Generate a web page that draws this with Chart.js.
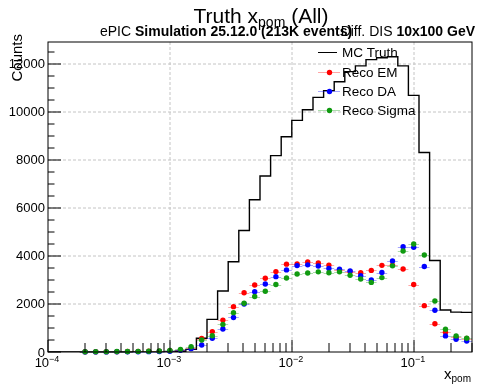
<!DOCTYPE html>
<html>
<head>
<meta charset="utf-8">
<script src="https://cdn.jsdelivr.net/npm/chart.js@4/dist/chart.umd.min.js"></script>
<style>
  html, body { margin: 0; padding: 0; background: #fff; }
  canvas { display: block; }
</style>
</head>
<body>
<canvas id="chart" width="479" height="384"></canvas>
<script>
// histogram binning: 40 log bins from 1e-4 to 0.3
const nBins = 40;
const xLow = 1e-4;
const xHigh = 0.3;

const mcTruth = [0, 0, 0, 0, 0, 0, 0, 0, 0, 2, 5, 10, 30, 110, 570, 1360, 2540, 3760, 5060, 6340,
                 7330, 8180, 8970, 9650, 10090, 10610, 10890, 11260, 11680, 11920, 12180, 12260, 12300, 11920, 10690, 8310, 3810, 1750, 1660, 1650];
const recoEM = [null, null, null, 10, 10, 15, 15, 20, 25, 30, 35, 50, 90, 160, 560, 850, 1330, 1890, 2470, 2790,
                3070, 3350, 3660, 3670, 3750, 3710, 3620, 3420, 3350, 3300, 3400, 3610, 3620, 3460, 2810, 1930, 1180, 820, 610, 560];
const recoDA = [null, null, null, 5, 5, 5, 10, 10, 10, 15, 20, 30, 70, 140, 290, 570, 960, 1440, 2000, 2510,
                2830, 3140, 3420, 3600, 3630, 3580, 3480, 3450, 3380, 3180, 3000, 3310, 3790, 4390, 4360, 3560, 1740, 670, 530, 460];
const recoSigma = [null, null, null, 10, 15, 15, 20, 20, 25, 30, 40, 65, 110, 220, 500, 680, 1150, 1640, 2030, 2310,
                   2530, 2810, 3080, 3250, 3290, 3340, 3300, 3340, 3200, 3040, 2900, 3100, 3590, 4210, 4500, 4040, 2125, 945, 670, 570];

const yTicks = [0, 2000, 4000, 6000, 8000, 10000, 12000];
const yMinorStep = 500;
const xDecades = [-4, -3, -2, -1];

const titleMain = 'Truth x';
const titleSub = 'pom';
const titleEnd = ' (All)';
const xTitle = 'x';
const xTitleSub = 'pom';
const yTitle = 'Counts';

const FONT = '"Liberation Sans", Arial, sans-serif';

const lgLow = Math.log10(xLow), lgHigh = Math.log10(xHigh);
const binEdges = [];
for (let i = 0; i <= nBins; i++) binEdges.push(Math.pow(10, lgLow + i * (lgHigh - lgLow) / nBins));

// ROOT puts the maximum 5% above the tallest bin
const yMax = 1.05 * Math.max(...mcTruth);

const truthPts = mcTruth.map((v, i) => ({ x: binEdges[i], y: v }));
truthPts.push({ x: binEdges[nBins], y: mcTruth[nBins - 1] });

function recoPoints(values) {
    const pts = [];
    values.forEach((v, i) => {
        if (v === null) return;
        pts.push({ x: Math.sqrt(binEdges[i] * binEdges[i + 1]), y: v, lo: binEdges[i], hi: binEdges[i + 1], err: Math.sqrt(v) });
    });
    return pts;
}

function drawText(ctx, parts, x, y, align) {
    // parts: [text, size, bold, dy]
    let total = 0;
    parts.forEach(p => { ctx.font = (p[2] ? 'bold ' : '') + p[1] + 'px ' + FONT; total += ctx.measureText(p[0]).width; });
    let cx = align === 'center' ? x - total / 2 : align === 'right' ? x - total : x;
    ctx.textAlign = 'left';
    parts.forEach(p => {
        ctx.font = (p[2] ? 'bold ' : '') + p[1] + 'px ' + FONT;
        ctx.fillText(p[0], cx, y + (p[3] || 0));
        cx += ctx.measureText(p[0]).width;
    });
}

const rootStyle = {
    id: 'rootStyle',
    beforeDatasetsDraw(chart) {
        const { ctx, chartArea: a, scales: { x, y } } = chart;
        ctx.save();
        ctx.strokeStyle = '#c4c4c4';
        ctx.lineWidth = 1;
        ctx.setLineDash([3, 2]);
        yTicks.forEach(v => {
            if (v === 0) return;
            const py = Math.round(y.getPixelForValue(v));
            ctx.beginPath(); ctx.moveTo(a.left, py); ctx.lineTo(a.right, py); ctx.stroke();
        });
        xDecades.forEach(d => {
            if (d === -4) return;
            const px = Math.round(x.getPixelForValue(Math.pow(10, d)));
            ctx.beginPath(); ctx.moveTo(px, a.top); ctx.lineTo(px, a.bottom); ctx.stroke();
        });
        ctx.restore();
    },
    beforeDatasetDraw(chart, args) {
        const ds = chart.data.datasets[args.index];
        if (!ds.barColor) return;
        const { ctx, scales: { x, y } } = chart;
        ctx.save();
        ctx.strokeStyle = ds.barColor;
        ctx.lineWidth = 1;
        ds.data.forEach(p => {
            const py = Math.round(y.getPixelForValue(p.y)) + 0.5;
            const px = Math.round(x.getPixelForValue(p.x)) + 0.5;
            ctx.beginPath();
            ctx.moveTo(x.getPixelForValue(p.lo), py);
            ctx.lineTo(x.getPixelForValue(p.hi), py);
            ctx.moveTo(px, y.getPixelForValue(p.y - p.err));
            ctx.lineTo(px, y.getPixelForValue(p.y + p.err));
            ctx.stroke();
        });
        ctx.restore();
    },
    afterDatasetsDraw(chart) {
        const { ctx, chartArea: a, scales: { x, y } } = chart;
        ctx.save();
        ctx.strokeStyle = '#000';
        ctx.lineWidth = 1;
        // frame
        ctx.strokeRect(a.left, a.top, a.right - a.left, a.bottom - a.top);

        // y ticks
        ctx.beginPath();
        for (let v = 0; v <= yMax; v += yMinorStep) {
            const py = Math.round(y.getPixelForValue(v));
            const len = yTicks.includes(v) ? 13 : 6.5;
            ctx.moveTo(a.left, py); ctx.lineTo(a.left + len, py);
        }
        // x ticks
        xDecades.forEach(d => {
            for (let m = 1; m <= 9; m++) {
                const v = m * Math.pow(10, d);
                if (v > xHigh * 1.0001) break;
                const px = Math.round(x.getPixelForValue(v));
                const len = m === 1 ? 12 : 9;
                ctx.moveTo(px, a.bottom); ctx.lineTo(px, a.bottom - len);
            }
        });
        ctx.stroke();

        ctx.fillStyle = '#000';
        ctx.textBaseline = 'alphabetic';
        // y labels
        ctx.font = '13px ' + FONT;
        ctx.textAlign = 'right';
        yTicks.forEach(v => {
            ctx.fillText(String(v), a.left - 3, y.getPixelForValue(v) + 4.5);
        });
        // x labels
        xDecades.forEach(d => {
            const px = x.getPixelForValue(Math.pow(10, d));
            drawText(ctx, [['10', 13], ['\u2212' + (-d), 9, false, -5]], px - 1, a.bottom + 15, 'center');
        });

        // axis titles
        drawText(ctx, [[xTitle, 15], [xTitleSub, 10, false, 3]], a.right - 1, a.bottom + 27, 'right');
        ctx.save();
        ctx.translate(22, 34);
        ctx.rotate(-Math.PI / 2);
        drawText(ctx, [[yTitle, 15]], 0, 0, 'right');
        ctx.restore();

        // titles
        drawText(ctx, [[titleMain, 21], [titleSub, 14, false, 4.5], [titleEnd, 21]], 261, 22.5, 'center');
        drawText(ctx, [['ePIC ', 14], ['Simulation 25.12.0 (213K events)', 14, true]], 100, 35.5, 'left');
        drawText(ctx, [['Diff. DIS ', 14], ['10x100 GeV', 14, true]], 475, 35.5, 'right');

        // legend
        const rowY = [51.5, 71.5, 90.5, 110];
        chart.data.datasets.forEach((ds, i) => {
            const ly = rowY[i];
            ctx.strokeStyle = ds.barColor || ds.borderColor;
            ctx.lineWidth = 1;
            ctx.beginPath();
            ctx.moveTo(318, Math.round(ly) + 0.5);
            ctx.lineTo(ds.barColor ? 340 : 337, Math.round(ly) + 0.5);
            ctx.stroke();
            if (ds.barColor) {
                ctx.fillStyle = ds.backgroundColor;
                ctx.beginPath(); ctx.arc(329.5, Math.round(ly) + 0.5, 2.7, 0, Math.PI * 2); ctx.fill();
            }
            ctx.fillStyle = '#000';
            drawText(ctx, [[ds.label, 13.5]], 342, ly + 5, 'left');
        });
        ctx.restore();
    }
};

new Chart(document.getElementById('chart').getContext('2d'), {
    type: 'scatter',
    data: {
        datasets: [
            { type: 'line', label: 'MC Truth', data: truthPts, stepped: true, borderColor: '#000', borderWidth: 1.4,
              pointRadius: 0, fill: false, order: 4 },
            { label: 'Reco EM', data: recoPoints(recoEM), backgroundColor: '#ff0000', borderColor: '#ff0000',
              pointRadius: 2.7, pointBorderWidth: 0, barColor: 'rgba(255,0,0,0.35)', clip: false, order: 3 },
            { label: 'Reco DA', data: recoPoints(recoDA), backgroundColor: '#0000ff', borderColor: '#0000ff',
              pointRadius: 2.7, pointBorderWidth: 0, barColor: 'rgba(0,0,255,0.35)', clip: false, order: 2 },
            { label: 'Reco Sigma', data: recoPoints(recoSigma), backgroundColor: '#109a10', borderColor: '#109a10',
              pointRadius: 2.7, pointBorderWidth: 0, barColor: 'rgba(16,154,16,0.35)', clip: false, order: 1 }
        ]
    },
    options: {
        responsive: false,
        animation: false,
        devicePixelRatio: 1,
        layout: { padding: { left: 48, top: 42, right: 7, bottom: 32 } },
        scales: {
            x: { type: 'logarithmic', min: xLow, max: xHigh, display: false },
            y: { type: 'linear', min: 0, max: yMax, display: false }
        },
        plugins: { legend: { display: false }, tooltip: { enabled: false } }
    },
    plugins: [rootStyle]
});
</script>
</body>
</html>
